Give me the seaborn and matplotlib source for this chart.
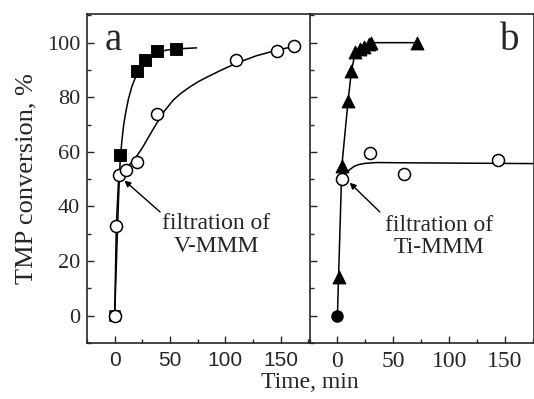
import numpy as np
import pandas as pd
import matplotlib
matplotlib.use("Agg")
import matplotlib.pyplot as plt
from matplotlib.ticker import MultipleLocator
import seaborn as sns

# Panel a: V-MMM, filled squares = no filtration, open circles = after filtration
a_sq_t = [5, 20, 27.5, 38, 55]
a_sq_y = [59, 89.5, 93.5, 96.8, 97.5]
a_sq_curve_t = [0, 2, 3.6, 5, 6.5, 8, 10, 12.5, 15.6, 20, 25, 30, 38, 47, 55, 74]
a_sq_curve_y = [0, 25, 44, 57, 64, 69.5, 74.5, 79.5, 84, 88.5, 92, 94.3, 96.3, 97.3, 97.7, 98.1]
a_ci_t = [0, 1.5, 3.5, 10, 20, 38.5, 110, 147, 162]
a_ci_y = [0, 33, 51.5, 53.3, 56.3, 73.8, 93.8, 96.8, 98.6]
a_ci_curve_t = [0, 1.5, 3.5, 6, 10, 15, 20, 25, 30, 38, 45, 53, 60, 68, 75, 83, 95, 110, 128, 147, 163]
a_ci_curve_y = [0, 33, 50, 52.3, 54, 56, 58.5, 61.5, 65, 70.5, 75, 79, 81.5, 83.8, 85.6, 87.3,
                89.7, 92.5, 95.2, 97.3, 98.7]

# Panel b: Ti-MMM, filled triangles = no filtration, open circles = after filtration
b_tr_t = [0, 1, 4, 9.5, 12.5, 16, 20, 24, 28, 30, 71]
b_tr_y = [0, 14, 55, 78.5, 89.5, 96.5, 97.5, 98.5, 99.5, 100, 100]
b_ci_t = [4.5, 29, 60, 144]
b_ci_y = [50, 59.5, 52, 57]
b_ci_curve_t = [4.5, 7, 11, 15, 18.6, 25, 35, 60, 100, 140, 180]
b_ci_curve_y = [50, 52, 53.5, 54.7, 55.3, 55.8, 56.1, 56, 55.9, 55.8, 55.7]

sns.set_style("ticks")
plt.rcParams['font.family'] = ['Liberation Serif', 'DejaVu Serif']

fig = plt.figure(figsize=(5.34, 3.99), dpi=100)
ax1 = fig.add_axes([87 / 534, 1 - 343 / 399, (309.5 - 87) / 534, (343 - 14) / 399])
ax2 = fig.add_axes([309.5 / 534, 1 - 343 / 399, (534 - 309.5) / 534, (343 - 14) / 399])

lw = 1.1
# panel a
sns.lineplot(x=a_sq_curve_t, y=a_sq_curve_y, ax=ax1, color='black', lw=lw, sort=False, estimator=None)
sns.lineplot(x=a_ci_curve_t, y=a_ci_curve_y, ax=ax1, color='black', lw=lw, sort=False, estimator=None)
ax1.plot([0], [0], ls='none', marker='s', ms=7.5, mfc='white', mec='black', mew=1.1)
sns.scatterplot(x=a_ci_t, y=a_ci_y, ax=ax1, marker='o', s=75, facecolor='white', edgecolor='black', linewidth=1.1, zorder=3)
sns.scatterplot(x=a_sq_t, y=a_sq_y, ax=ax1, marker='s', s=65, color='black', edgecolor='black', zorder=4)

# panel b
sns.lineplot(x=b_tr_t, y=b_tr_y, ax=ax2, color='black', lw=lw, sort=False, estimator=None)
sns.lineplot(x=b_ci_curve_t, y=b_ci_curve_y, ax=ax2, color='black', lw=lw, sort=False, estimator=None)
sns.scatterplot(x=b_ci_t, y=b_ci_y, ax=ax2, marker='o', s=75, facecolor='white', edgecolor='black', linewidth=1.1, zorder=3)
sns.scatterplot(x=b_tr_t[1:], y=b_tr_y[1:], ax=ax2, marker='^', s=85, color='black', edgecolor='black', zorder=4)
ax2.plot([0], [0], ls='none', marker='o', ms=8, color='black', zorder=5)

for ax in (ax1, ax2):
    ax.set_xlim(-25, 176)
    ax.set_ylim(-10, 110.5)
    ax.xaxis.set_major_locator(MultipleLocator(50))
    ax.xaxis.set_minor_locator(MultipleLocator(25))
    ax.yaxis.set_major_locator(MultipleLocator(20))
    ax.yaxis.set_minor_locator(MultipleLocator(10))
    ax.tick_params(which='both', direction='in', top=False, right=False, width=1.0)
    ax.tick_params(which='major', length=5)
    ax.tick_params(which='minor', length=3)
    for sp in ax.spines.values():
        sp.set_linewidth(1.2)
        sp.set_visible(True)
    ax.set_xlabel('')
    ax.set_ylabel('')

ax1.set_yticks([0, 20, 40, 60, 80, 100])
ax1.set_yticklabels(['0', '20', '40', '60', '80', '100'], fontsize=16)
ax1.set_xticks([0, 50, 100, 150])
ax1.set_xticklabels(['0', '50', '100', '150'], fontsize=15, family='Liberation Sans')
ax1.spines['right'].set_visible(False)
ax2.set_xticks([0, 50, 100, 150])
ax2.set_xticklabels(['0', '50', '100', '150'], fontsize=17)
ax2.tick_params(axis='y', labelleft=False)
ax1.tick_params(axis='x', pad=6)
ax2.tick_params(axis='x', pad=6)
ax1.tick_params(axis='y', pad=5)

ax1.set_ylabel('TMP conversion, %', fontsize=19, labelpad=7)
fig.text(310 / 534, 1 - 383 / 399, 'Time, min', fontsize=17, ha='center', va='center')

ax1.text(0.08, 0.975, 'a', transform=ax1.transAxes, fontsize=28, va='top', ha='left')
ax2.text(0.85, 0.975, 'b', transform=ax2.transAxes, fontsize=28, va='top', ha='left')

ax1.text(92, 29.5, 'filtration of\nV-MMM', fontsize=17, ha='center', va='center', linespacing=1.1)
ax1.annotate('', xy=(8.8, 49.5), xytext=(41, 38),
             arrowprops=dict(arrowstyle='-|>', color='black', lw=1.0, mutation_scale=9,
                             shrinkA=0, shrinkB=0))
ax2.text(91, 29, 'filtration of\nTi-MMM', fontsize=17, ha='center', va='center', linespacing=1.1)
ax2.annotate('', xy=(11, 48.7), xytext=(38, 38),
             arrowprops=dict(arrowstyle='-|>', color='black', lw=1.0, mutation_scale=9,
                             shrinkA=0, shrinkB=0))

fig.savefig('out.png', dpi=100)
